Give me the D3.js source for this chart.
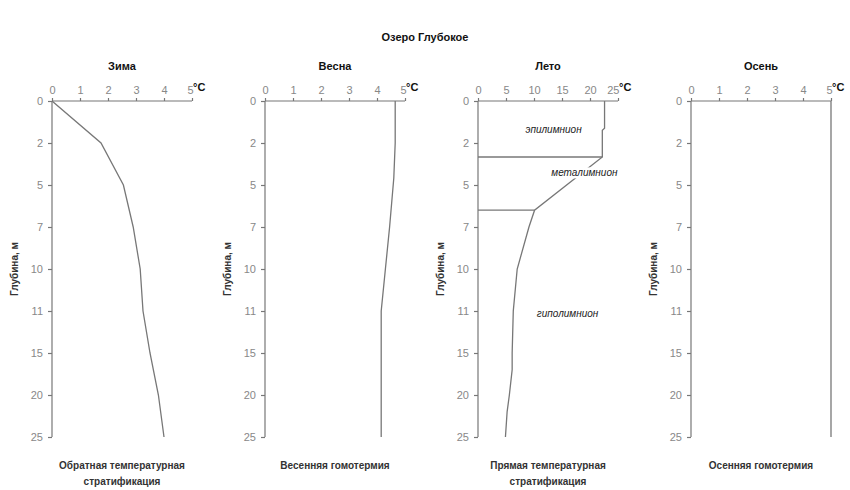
<!DOCTYPE html>
<meta charset="utf-8">
<style>
body { margin: 0; background: #fff; }
svg { font-family: "Liberation Sans", Arial, sans-serif; }
.axis path, .axis line { stroke: #777; stroke-width: 1.2px; }
.axis text { fill: #888; font-size: 11px; }
.curve { fill: none; stroke: #777; stroke-width: 1.3px; }
.title { font-weight: bold; font-size: 11px; fill: #111; }
.caption { font-weight: bold; font-size: 10px; fill: #333; }
.layer { font-style: italic; font-size: 10px; fill: #222; }
</style>
<svg width="850" height="490"></svg>
<script src="https://cdn.jsdelivr.net/npm/d3@7"></script>
<script>

// depth levels shown on the y axis (m), evenly spaced
var depths = [0, 2, 5, 7, 10, 11, 15, 20, 25];

var seasons = ["Зима", "Весна", "Лето", "Осень"];
var captions = [
  ["Обратная температурная", "стратификация"],
  ["Весенняя гомотермия"],
  ["Прямая температурная", "стратификация"],
  ["Осенняя гомотермия"]
];
var tempMax = [5, 5, 25, 5];
var tempStep = [1, 1, 5, 1];

// temperature profiles (depth, °C)
var winterDepth = [0, 2, 5, 7, 10, 11, 15, 20, 25];
var winterTemp  = [0, 1.75, 2.55, 2.9, 3.15, 3.25, 3.5, 3.8, 4.0];

var springDepth = [0, 2, 4.5, 7, 10, 11, 15, 20, 25];
var springTemp  = [4.65, 4.65, 4.6, 4.45, 4.3, 4.15, 4.15, 4.15, 4.15];

var summerDepth = [0, 1.3, 1.4, 3.0, 6.2, 7, 10, 11, 15, 17, 20, 22, 25];
var summerTemp  = [22.6, 22.6, 22.2, 22.2, 10.1, 9.1, 7.0, 6.3, 6.1, 6.1, 5.6, 5.2, 4.9];

var autumnDepth = [0, 25];
var autumnTemp  = [5, 5];

// summer layer boundaries
var boundDepth = [3.0, 6.2];
var boundTemp = [22.2, 10.1];
var layerNames = ["эпилимнион", "металимнион", "гиполимнион"];
var layerDepth = [1.35, 4.1, 11.2];
var layerTemp = [13.5, 19, 16];

var profiles = [
  {d: winterDepth, t: winterTemp},
  {d: springDepth, t: springTemp},
  {d: summerDepth, t: summerTemp},
  {d: autumnDepth, t: autumnTemp}
];

var svg = d3.select("svg");

svg.append("text").attr("class", "title")
  .attr("x", 425).attr("y", 41).attr("text-anchor", "middle")
  .text("Озеро Глубокое");

// piecewise scale: each listed depth gets an equal step
var y = d3.scaleLinear()
  .domain(depths)
  .range(depths.map(function(d, i) { return 101 + i * 42; }));

var panelW = 140;

seasons.forEach(function(name, i) {
  var x0 = 52 + i * 213;
  var x = d3.scaleLinear().domain([0, tempMax[i]]).range([x0, x0 + panelW]);
  var g = svg.append("g");

  g.append("text").attr("class", "title")
    .attr("x", x0 + panelW / 2).attr("y", 70).attr("text-anchor", "middle")
    .text(name);

  g.append("g").attr("class", "axis")
    .attr("transform", "translate(0,101)")
    .call(d3.axisTop(x).ticks(tempMax[i] / tempStep[i]).tickSize(3).tickSizeOuter(0).tickPadding(4))
    .call(function(a) {
      a.select(".domain").attr("d", "M" + x0 + ",0H" + (x0 + panelW));
      // last label sits left of its tick so the unit can follow it
      a.selectAll(".tick text").filter(function(d) { return d === tempMax[i]; })
        .attr("text-anchor", "end").attr("dx", "1");
    });

  g.append("text").attr("class", "title")
    .attr("x", x0 + panelW + 1).attr("y", 91)
    .text("°C");

  g.append("g").attr("class", "axis")
    .attr("transform", "translate(" + x0 + ",0)")
    .call(d3.axisLeft(y).tickValues(depths).tickFormat(d3.format("d")).tickSize(4).tickSizeOuter(0).tickPadding(5))
    .call(function(a) { a.select(".domain").attr("d", "M0,101V" + y(25)); });

  g.append("text").attr("class", "caption")
    .attr("transform", "translate(" + (x0 - 34) + "," + y(10) + ") rotate(-90)")
    .attr("text-anchor", "middle")
    .text("Глубина, м");

  var p = profiles[i];
  var line = d3.line()
    .x(function(k) { return x(p.t[k]); })
    .y(function(k) { return y(p.d[k]); });

  if (i === 2) {
    boundDepth.forEach(function(bd, j) {
      g.append("line").attr("class", "curve")
        .attr("x1", x(0)).attr("x2", x(boundTemp[j]))
        .attr("y1", y(bd)).attr("y2", y(bd));
    });
  }

  g.append("path").attr("class", "curve")
    .attr("d", line(d3.range(p.d.length)));

  if (i === 2) {
    layerNames.forEach(function(nm, j) {
      var t = g.append("text").attr("class", "layer")
        .attr("x", x(layerTemp[j])).attr("y", y(layerDepth[j]) + 4)
        .attr("text-anchor", "middle").text(nm);
      var b = t.node().getBBox();
      g.insert("rect", function() { return t.node(); })
        .attr("x", b.x - 2).attr("y", b.y).attr("width", b.width + 4).attr("height", b.height)
        .attr("fill", "#fff");
    });
  }

  captions[i].forEach(function(c, j) {
    g.append("text").attr("class", "caption")
      .attr("x", x0 + panelW / 2).attr("y", 469 + j * 16)
      .attr("text-anchor", "middle").text(c);
  });
});
</script>
